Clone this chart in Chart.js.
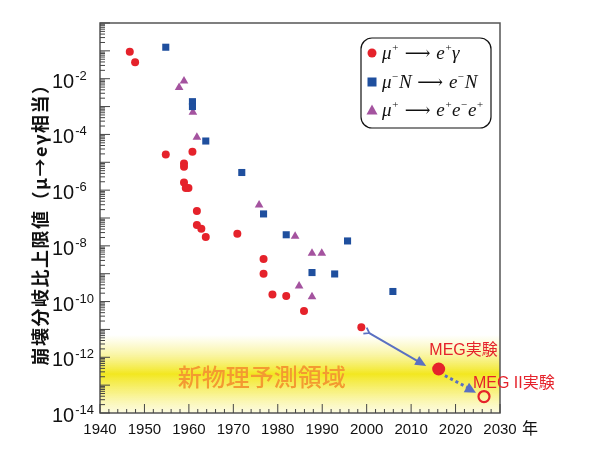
<!DOCTYPE html>
<html>
<head>
<meta charset="utf-8">
<script src="https://cdn.jsdelivr.net/npm/chart.js@4"></script>
<style>
  body { margin: 0; background: #fff; }
  #wrap { width: 600px; height: 456px; }
</style>
</head>
<body>
<div id="wrap"><canvas id="myChart" width="600" height="456"></canvas></div>
<script>
// 1. DATA
// mu+ -> e+ gamma
const gammaYears  = [1946.7, 1947.9, 1954.8, 1960.8, 1958.9, 1958.9, 1958.9, 1959.3, 1959.9, 1961.8, 1961.8, 1962.8, 1963.8, 1970.9, 1976.8, 1976.8, 1978.8, 1981.9, 1985.9, 1998.8];
const gammaLimits = [9.3e-2, 3.9e-2, 1.9e-5, 2.4e-5, 9.1e-6, 6.9e-6, 1.9e-6, 1.2e-6, 1.2e-6, 1.8e-7, 5.6e-8, 4.1e-8, 2.1e-8, 2.7e-8, 3.4e-9, 1.0e-9, 1.8e-10, 1.6e-10, 4.6e-11, 1.2e-11];
// mu- N -> e- N
const convYears  = [1954.8, 1960.8, 1960.8, 1963.8, 1971.9, 1976.8, 1981.9, 1987.7, 1992.8, 1995.7, 2005.9];
const convLimits = [1.35e-1, 1.5e-3, 1.0e-3, 5.8e-5, 4.3e-6, 1.4e-7, 2.5e-8, 1.1e-9, 9.8e-10, 1.5e-8, 2.3e-10];
// mu+ -> e+ e- e+
const eeeYears  = [1958.9, 1957.8, 1960.9, 1961.8, 1975.8, 1983.9, 1987.7, 1989.9, 1984.8, 1987.7];
const eeeLimits = [8.3e-3, 4.8e-3, 6.3e-4, 7.9e-5, 2.9e-7, 2.2e-8, 5.4e-9, 5.4e-9, 3.6e-10, 1.5e-10];
// MEG result and MEG II goal
const megYears = [2016.2];
const megLimits = [3.8e-13];
const meg2Years = [2026.4];
const meg2Limits = [3.9e-14];

// tick labels
const xTickYears = [1940, 1950, 1960, 1970, 1980, 1990, 2000, 2010, 2020, 2030];
const yTickExps = [-2, -4, -6, -8, -10, -12, -14];

// arrow anchors (data coords)
const arrowFrom = [2000.6, 7.4e-12];
const arrowTo = [2013.4, 4.9e-13];
const dotFrom = [2017.6, 2.2e-13];
const dotTo = [2024.6, 5.3e-14];

const RED = '#e5222b';
const BLUE = '#1f4f9e';
const PURPLE = '#a4539f';
const ARROW = '#5a70c2';
const LATIN = "'Liberation Sans', Arial, sans-serif";
const CJK = "'Noto Sans CJK JP', sans-serif";

const pts = (xs, ys) => xs.map((x, i) => ({ x: x, y: ys[i] }));

// 2. DRAWING HELPERS
function drawPow(ctx, x, y, exp) {
    ctx.textAlign = 'left';
    ctx.textBaseline = 'alphabetic';
    ctx.font = '20px ' + LATIN;
    ctx.fillText('10', x, y);
    const w = ctx.measureText('10').width;
    ctx.font = '13px ' + LATIN;
    ctx.fillText(String(exp), x + w + 1, y - 8);
}

// text pieces: [text, kind] 0 = normal italic, 1 = superscript, 2 = arrow
function drawRich(ctx, x, y, parts) {
    let cx = x;
    parts.forEach(([t, kind]) => {
        if (kind === 1) ctx.font = 'italic 11px "Liberation Serif", serif';
        else if (kind === 2) ctx.font = '18px "DejaVu Serif", serif';
        else ctx.font = 'italic 19px "Liberation Serif", serif';
        ctx.fillText(t, cx, kind === 1 ? y - 8 : y);
        cx += ctx.measureText(t).width;
    });
}

function arrowHead(ctx, x1, y1, x2, y2, len, half) {
    const a = Math.atan2(y2 - y1, x2 - x1);
    ctx.beginPath();
    ctx.moveTo(x2, y2);
    ctx.lineTo(x2 - len * Math.cos(a) + half * Math.sin(a), y2 - len * Math.sin(a) - half * Math.cos(a));
    ctx.lineTo(x2 - len * Math.cos(a) - half * Math.sin(a), y2 - len * Math.sin(a) + half * Math.cos(a));
    ctx.closePath();
    ctx.fill();
}

// 3. PLUGIN: band, axes, legend, notes
const decorPlugin = {
    id: 'decor',
    beforeDatasetsDraw(chart) {
        const { ctx, chartArea: a, scales: { x, y } } = chart;
        // yellow "new physics" band
        const top = y.getPixelForValue(Math.pow(10, -11.2));
        const bot = y.getPixelForValue(1e-14);
        const g = ctx.createLinearGradient(0, top, 0, bot);
        g.addColorStop(0, 'rgba(246,238,80,0)');
        g.addColorStop(0.25, 'rgba(244,234,60,0.45)');
        g.addColorStop(0.5, 'rgba(242,230,20,0.95)');
        g.addColorStop(0.75, 'rgba(244,234,60,0.6)');
        g.addColorStop(1, 'rgba(246,240,130,0.25)');
        ctx.save();
        ctx.fillStyle = g;
        ctx.fillRect(a.left, top, a.right - a.left, bot - top);
        ctx.fillStyle = '#f39a31';
        ctx.font = '500 24px ' + CJK;
        ctx.textAlign = 'left';
        ctx.textBaseline = 'middle';
        ctx.fillText('新物理予測領域', x.getPixelForValue(1957.5), y.getPixelForValue(Math.pow(10, -12.7)));
        ctx.restore();
    },
    afterDatasetsDraw(chart) {
        const { ctx, chartArea: a, scales: { x, y } } = chart;
        ctx.save();
        // frame
        ctx.strokeStyle = '#555';
        ctx.lineWidth = 1.5;
        ctx.strokeRect(a.left, a.top, a.right - a.left, a.bottom - a.top);

        // y ticks (inward), log minors
        ctx.lineWidth = 1;
        ctx.strokeStyle = '#444';
        ctx.beginPath();
        for (let e = -14; e <= 0; e++) {
            const py = y.getPixelForValue(Math.pow(10, e));
            ctx.moveTo(a.left, py); ctx.lineTo(a.left + 10, py);
            if (e < 0) {
                for (let m = 2; m <= 9; m++) {
                    const pm = y.getPixelForValue(m * Math.pow(10, e));
                    ctx.moveTo(a.left, pm); ctx.lineTo(a.left + 5, pm);
                }
            }
        }
        // x ticks (inward)
        for (let yr = 1940; yr <= 2030; yr += 2) {
            const px = x.getPixelForValue(yr);
            const len = yr % 10 === 0 ? 9 : 4;
            ctx.moveTo(px, a.bottom); ctx.lineTo(px, a.bottom - len);
        }
        ctx.stroke();

        // tick labels
        ctx.fillStyle = '#111';
        yTickExps.forEach(e => {
            drawPow(ctx, 52, y.getPixelForValue(Math.pow(10, e)) + 9, '-' + Math.abs(e));
        });
        ctx.font = '15px ' + LATIN;
        ctx.textAlign = 'center';
        ctx.textBaseline = 'alphabetic';
        xTickYears.forEach(yr => ctx.fillText(String(yr), x.getPixelForValue(yr), a.bottom + 21));
        ctx.font = '16px ' + CJK;
        ctx.fillText('年', a.right + 30, a.bottom + 21);

        // y title
        ctx.translate(40, 220);
        ctx.rotate(-Math.PI / 2);
        ctx.font = 'bold 18px ' + CJK;
        ctx.letterSpacing = '1.5px';
        ctx.textBaseline = 'middle';
        ctx.fillText('崩壊分岐比上限値（μ→eγ相当）', 0, 0);
        ctx.restore();
    },
    afterDraw(chart) {
        const { ctx, scales: { x, y } } = chart;
        ctx.save();
        // solid arrow 1999 -> MEG
        const ax1 = x.getPixelForValue(arrowFrom[0]), ay1 = y.getPixelForValue(arrowFrom[1]);
        const ax2 = x.getPixelForValue(arrowTo[0]), ay2 = y.getPixelForValue(arrowTo[1]);
        ctx.strokeStyle = ARROW;
        ctx.fillStyle = ARROW;
        ctx.lineWidth = 2;
        ctx.beginPath(); ctx.moveTo(ax1, ay1); ctx.lineTo(ax2 - 6, ay2 - 3.3); ctx.stroke();
        arrowHead(ctx, ax1, ay1, ax2, ay2, 11, 5);
        // small fork at tail
        const ang = Math.atan2(ay2 - ay1, ax2 - ax1);
        ctx.beginPath();
        ctx.moveTo(ax1 - 6 * Math.cos(ang - 0.6), ay1 - 6 * Math.sin(ang - 0.6));
        ctx.lineTo(ax1, ay1);
        ctx.lineTo(ax1 - 6 * Math.cos(ang + 0.6), ay1 - 6 * Math.sin(ang + 0.6));
        ctx.lineWidth = 1.8;
        ctx.stroke();

        // dotted arrow MEG -> MEG II
        const bx1 = x.getPixelForValue(dotFrom[0]), by1 = y.getPixelForValue(dotFrom[1]);
        const bx2 = x.getPixelForValue(dotTo[0]), by2 = y.getPixelForValue(dotTo[1]);
        ctx.lineWidth = 3;
        ctx.setLineDash([3, 3]);
        ctx.beginPath(); ctx.moveTo(bx1, by1); ctx.lineTo(bx2 - 7, by2 - 4.5); ctx.stroke();
        ctx.setLineDash([]);
        arrowHead(ctx, bx1, by1, bx2, by2, 11, 5.5);

        // experiment labels
        ctx.fillStyle = RED;
        ctx.font = '16px ' + LATIN;
        ctx.textAlign = 'left';
        ctx.textBaseline = 'alphabetic';
        let lx = x.getPixelForValue(2014.1);
        let ly = y.getPixelForValue(Math.pow(10, -11.7)) + 6;
        ctx.fillText('MEG', lx, ly);
        let w = ctx.measureText('MEG').width;
        ctx.font = '16px ' + CJK;
        ctx.fillText('実験', lx + w, ly);
        ctx.font = '16px ' + LATIN;
        lx = x.getPixelForValue(2023.9);
        ly = y.getPixelForValue(Math.pow(10, -12.9)) + 6;
        ctx.fillText('MEG II', lx, ly);
        w = ctx.measureText('MEG II').width;
        ctx.font = '16px ' + CJK;
        ctx.fillText('実験', lx + w, ly);

        // legend box
        ctx.strokeStyle = '#111';
        ctx.lineWidth = 1.2;
        ctx.beginPath();
        ctx.roundRect(361, 38, 130, 90, 11);
        ctx.fillStyle = '#fff';
        ctx.fill();
        ctx.stroke();
        // markers
        ctx.fillStyle = RED;
        ctx.beginPath(); ctx.arc(372, 53, 4.5, 0, Math.PI * 2); ctx.fill();
        ctx.fillStyle = BLUE;
        ctx.fillRect(367.5, 77.5, 9, 9);
        ctx.fillStyle = PURPLE;
        ctx.beginPath(); ctx.moveTo(372, 104.5); ctx.lineTo(377.5, 114.5); ctx.lineTo(366.5, 114.5); ctx.closePath(); ctx.fill();
        // legend texts
        ctx.fillStyle = '#111';
        ctx.textAlign = 'left';
        drawRich(ctx, 382, 59, [['μ', 0], ['+', 1], [' ⟶ ', 2], ['e', 0], ['+', 1], ['γ', 0]]);
        drawRich(ctx, 382, 88, [['μ', 0], ['−', 1], ['N', 0], [' ⟶ ', 2], ['e', 0], ['−', 1], ['N', 0]]);
        drawRich(ctx, 382, 116, [['μ', 0], ['+', 1], [' ⟶ ', 2], ['e', 0], ['+', 1], ['e', 0], ['−', 1], ['e', 0], ['+', 1]]);
        ctx.restore();
    }
};

// 4. CHART
new Chart(document.getElementById('myChart').getContext('2d'), {
    type: 'scatter',
    data: {
        datasets: [
            { label: 'gamma', data: pts(gammaYears, gammaLimits), pointStyle: 'circle', pointRadius: 4, backgroundColor: RED, borderColor: RED, borderWidth: 0 },
            { label: 'conv', data: pts(convYears, convLimits), pointStyle: 'rect', pointRadius: 5, backgroundColor: BLUE, borderColor: BLUE, borderWidth: 0 },
            { label: 'eee', data: pts(eeeYears, eeeLimits), pointStyle: 'triangle', pointRadius: 5, backgroundColor: PURPLE, borderColor: PURPLE, borderWidth: 0 },
            { label: 'MEG', data: pts(megYears, megLimits), pointStyle: 'circle', pointRadius: 6.5, backgroundColor: RED, borderColor: RED, borderWidth: 0 },
            { label: 'MEG II', data: pts(meg2Years, meg2Limits), pointStyle: 'circle', pointRadius: 5.5, backgroundColor: 'rgba(0,0,0,0)', borderColor: RED, borderWidth: 2.2 }
        ]
    },
    options: {
        responsive: false,
        animation: false,
        devicePixelRatio: 1,
        layout: { padding: { left: 100, right: 100, top: 23, bottom: 43 } },
        scales: {
            x: { type: 'linear', min: 1940, max: 2030, display: false },
            y: { type: 'logarithmic', min: 1e-14, max: 1, display: false }
        },
        plugins: {
            legend: { display: false },
            tooltip: { enabled: false }
        }
    },
    plugins: [decorPlugin]
});
</script>
</body>
</html>
